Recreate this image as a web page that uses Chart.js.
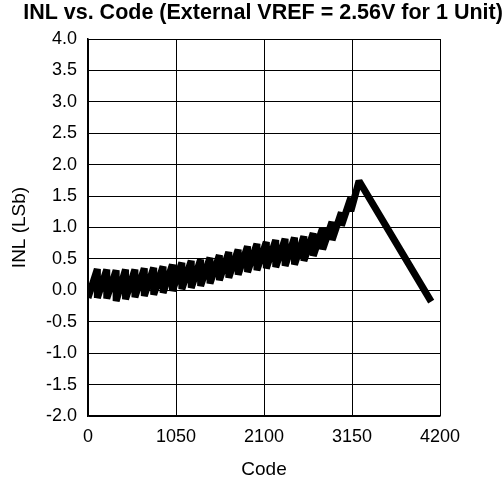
<!DOCTYPE html>
<html>
<head>
<meta charset="utf-8">
<script src="https://cdn.jsdelivr.net/npm/chart.js@4.4.1/dist/chart.umd.min.js"></script>
<style>
  html, body { margin: 0; padding: 0; background: #ffffff; }
  #wrap { width: 503px; height: 483px; }
</style>
</head>
<body>
<div id="wrap"><canvas id="c" width="503" height="483"></canvas></div>
<script>
// ---- Data ----
// Sawtooth segments of the INL curve: each segment starts at toothStart[i]
// (value toothLow[i]) and climbs to toothHigh[i] just before the next segment.
const toothStart = [0, 112, 224, 336, 448, 560, 672, 784, 896, 1008, 1120, 1232, 1344, 1456,
                    1568, 1680, 1792, 1904, 2016, 2128, 2240, 2352, 2464, 2576, 2688, 2800,
                    2912, 3024];
const toothLow  = [-0.12, -0.12, -0.13, -0.17, -0.14, -0.11, -0.09, -0.07, -0.04, -0.01, 0.02, 0.04,
                    0.07, 0.11, 0.16, 0.20, 0.25, 0.29, 0.32, 0.35, 0.37, 0.39, 0.41, 0.47, 0.55,
                    0.65, 0.80, 1.03];
const toothHigh = [0.34, 0.33, 0.32, 0.33, 0.33, 0.35, 0.36, 0.38, 0.41, 0.44, 0.47, 0.49,
                   0.52, 0.56, 0.61, 0.65, 0.70, 0.74, 0.77, 0.80, 0.82, 0.84, 0.86, 0.91, 0.99,
                   1.09, 1.24, 1.47];
// Last rise to the peak, then the straight falling part at the end of the code range
const tailCode = [3136, 3234, 4095];
const tailInl  = [1.26, 1.74, -0.18];

const xTicks = [0, 1050, 2100, 3150, 4200];
const yTickLabels = ['-2.0','-1.5','-1.0','-0.5','0.0','0.5','1.0','1.5','2.0','2.5','3.0','3.5','4.0'];

// ---- Build the point list from the arrays ----
const points = [];
for (let i = 0; i < toothStart.length; i++) {
  const endCode = (i + 1 < toothStart.length ? toothStart[i + 1] : tailCode[0]) - 1;
  points.push({ x: toothStart[i], y: toothLow[i] });
  points.push({ x: endCode, y: toothHigh[i] });
}
for (let i = 0; i < tailCode.length; i++) points.push({ x: tailCode[i], y: tailInl[i] });

const FONT = "'Liberation Sans', Arial, Helvetica, sans-serif";

new Chart(document.getElementById('c'), {
  type: 'line',
  data: {
    datasets: [{
      data: points,
      borderColor: '#000000',
      borderWidth: 7,
      pointRadius: 0,
      tension: 0,
      fill: false,
      borderJoinStyle: 'bevel'
    }]
  },
  options: {
    responsive: false,
    animation: false,
    devicePixelRatio: 1,
    layout: { padding: { left: 23, right: 0, top: 0, bottom: 0 } },
    plugins: {
      legend: { display: false },
      tooltip: { enabled: false },
      title: {
        display: true,
        text: 'INL vs. Code (External VREF = 2.56V for 1 Unit)',
        color: '#000000',
        font: { family: FONT, size: 21.5, weight: 'bold' },
        padding: { top: 0.5, bottom: 12.7 }
      }
    },
    scales: {
      x: {
        type: 'linear',
        min: 0, max: 4200,
        afterBuildTicks: (s) => { s.ticks = xTicks.map(v => ({ value: v })); },
        afterFit: (s) => { s.height = 67; },
        grid: { color: '#000000', lineWidth: 1, drawTicks: false },
        border: { color: '#000000', width: 1.5 },
        ticks: {
          color: '#000000', padding: 10, maxRotation: 0, autoSkip: false,
          font: { family: FONT, size: 18 },
          callback: (v) => String(v)
        },
        title: {
          display: true, text: 'Code', color: '#000000',
          font: { family: FONT, size: 19 },
          padding: { top: 0, bottom: 2 }
        }
      },
      y: {
        type: 'linear',
        min: -2, max: 4,
        afterBuildTicks: (s) => { s.ticks = yTickLabels.map(t => ({ value: parseFloat(t) })); },
        afterFit: (s) => { s.width = 65; },
        grid: { color: '#000000', lineWidth: 1, drawTicks: false },
        border: { color: '#000000', width: 1.5 },
        ticks: {
          color: '#000000', padding: 11, autoSkip: false,
          font: { family: FONT, size: 18 },
          callback: (v) => yTickLabels[yTickLabels.map(parseFloat).indexOf(v)] ?? v.toFixed(1)
        },
        title: {
          display: true, text: 'INL (LSb)', color: '#000000',
          font: { family: FONT, size: 19 },
          padding: { top: -14.4, bottom: 0 }
        }
      },
      yRight: {
        type: 'linear',
        position: 'right',
        min: -2, max: 4,
        display: true,
        grid: { display: false, drawTicks: false },
        border: { display: false },
        ticks: { display: false },
        afterFit: (s) => { s.width = 63; }
      }
    }
  }
});
</script>
</body>
</html>
